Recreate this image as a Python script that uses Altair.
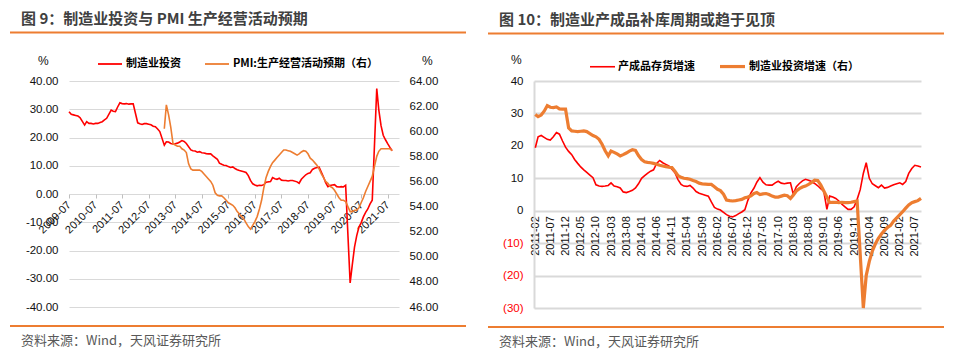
import altair as alt
import pandas as pd

# ---------------- Figure 9 data ----------------
fig9_title = "图 9：制造业投资与 PMI 生产经营活动预期"
fig9_series = ["制造业投资", "PMI:生产经营活动预期（右）"]
fig9_fai_start = (2009, 7)
fig9_fai = [
    29.1, 28.2, 28.0, 27.8, 27.6, 27.0, None,
    24.4, 25.6, 25.0, 25.0, 24.8, 25.0, 25.0, 25.3, 25.6, 26.2, 26.8, None,
    29.7, 29.3, 29.2, 30.8, 32.3, 32.0, 31.9, 32.0, 31.8, 31.9, 31.9, None,
    25.2, 24.9, 24.6, 24.9, 24.9, 24.7, 24.5, 24.0, 23.8, 23.0, 22.1, None,
    17.3, 18.5, 18.4, 17.9, 17.7, 17.8, 18.0, 18.4, 18.9, 18.6, 17.9, None,
    15.6, 15.3, 15.2, 14.8, 15.0, 14.6, 14.5, 14.3, 14.2, 14.2, 13.5, None,
    12.3, 10.9, 10.5, 10.2, 10.1, 9.7, 9.4, 9.6, 9.0, 8.6, 8.3, None,
    7.9, 7.6, 6.5, 4.8, 3.6, 3.2, 2.9, 3.1, 3.0, 3.3, 4.2, None,
    4.4, 5.8, 5.4, 5.2, 5.6, 4.9, 4.8, 4.8, 4.6, 4.8, 4.8, None,
    4.3, 3.8, 5.2, 6.0, 6.8, 7.3, 7.5, 8.7, 9.1, 9.4, 9.5, None,
    5.9, 4.0, 2.6, 3.0, 3.2, 3.3, 2.6, 2.5, 2.6, 2.5, 3.1, None,
    -31.5, -25.2, -18.8, -14.8, -11.7, -10.2, -8.1, -6.5, -5.3, -3.5, -2.2, None,
    37.3, 29.8, 24.2, 20.8, 19.2, 17.8, 16.5, 15.3,
]
fig9_pmi_start = (2013, 2)
fig9_pmi = [
    60.2, 62.1, 61.3, 60.3, 59.0, 58.9, 58.8, 58.8, 58.6, 58.5, 58.3,
    57.4, 57.0, 56.9, 56.9, 56.9, 56.9, 56.8, 56.6, 56.4, 56.2, 56.0, 55.7,
    55.1, 54.9, 54.85, 54.85, 54.7, 54.5, 54.3, 54.2, 54.1, 53.9, 53.6, 53.4,
    53.2, 53.0, 52.7, 52.4, 52.2, 52.5, 52.8, 53.2, 53.8, 54.5, 55.5, 56.3,
    56.8, 57.2, 57.5, 57.7, 57.9, 58.1, 58.3, 58.5, 58.5, 58.45, 58.4, 58.3,
    58.2, 58.1, 58.2, 58.35, 58.45, 58.4, 58.2, 57.85, 57.7, 57.5, 57.3, 57.0,
    56.6, 56.3, 56.0, 55.85, 55.6, 55.5, 55.3, 55.0, 54.7, 54.5, 54.5, 54.4,
    54.0, 53.6, 53.6, 53.7, 53.7, 53.9, 54.3, 54.7, 55.2, 55.6, 56.0, 56.4,
    57.2, 58.0, 58.4, 58.6, 58.6, 58.6, 58.6, 58.6, 58.45,
]
fig9_xticks = ["2009-07", "2010-07", "2011-07", "2012-07", "2013-07", "2014-07",
               "2015-07", "2016-07", "2017-07", "2018-07", "2019-07", "2020-07", "2021-07"]
fig9_left_ticks = [-40, -30, -20, -10, 0, 10, 20, 30, 40]
fig9_right_ticks = [46, 48, 50, 52, 54, 56, 58, 60, 62, 64]

# ---------------- Figure 10 data ----------------
fig10_title = "图 10：制造业产成品补库周期或趋于见顶"
fig10_series = ["产成品存货增速", "制造业投资增速（右）"]
fig10_start = (2011, 2)
fig10_inventory = [
    19.4, 22.8, 23.2, 22.6, 22.0, 21.8, 22.8, 24.1, 23.6, 21.5, 19.6,
    18.3, 17.3, 15.8, 14.6, 13.5, 12.6, 11.8, 11.0, 10.2, 8.0, 7.6, 7.5,
    7.6, 7.8, 8.6, 7.6, 7.4, 7.0, 5.8, 5.6, 5.9, 6.3, 7.0, 8.3,
    10.0, 10.8, 11.5, 12.2, 12.6, 14.6, 15.5, 14.8, 14.3, 13.8, 12.8, 11.7,
    9.6, 8.1, 7.6, 7.5, 7.8, 7.0, 5.9, 5.4, 5.1, 4.8, 4.5, 2.7,
    1.0, 0.5, 0.2, -0.5, -1.2, -1.7, -1.9, -1.5, -0.9, -0.4, 0.3, 3.2,
    5.5, 7.0, 8.8, 10.2, 8.8, 8.0, 7.9, 7.9, 8.6, 9.1, 8.5, 8.3,
    8.5, 8.6, 5.1, 7.4, 8.4, 9.2, 9.7, 9.4, 9.0, 8.4, 7.7, 6.8,
    6.0, 0.4, 4.5, 4.2, 3.8, 3.0, 2.0, 1.2, 0.4, 0.4, 1.2, 3.5,
    6.5, 11.5, 14.8, 10.0, 8.3, 7.7, 7.1, 7.9, 7.0, 7.2, 7.6, 8.0,
    8.3, 8.6, 8.1, 9.0, 11.5, 13.0, 14.0, 13.8, 13.5,
]
fig10_fai = [
    29.7, 29.0, 29.5, 30.7, 32.4, 31.9, 31.8, 32.0, 31.4, 31.3, 31.3,
    25.5, 24.6, 24.5, 24.4, 24.5, 24.6, 24.4, 23.8, 23.2, 22.8, 22.0, 20.5,
    18.5, 16.9, 18.4, 18.0, 17.5, 16.9, 17.3, 17.8, 18.4, 18.8, 18.6, 17.0,
    15.8, 15.1, 14.9, 14.8, 14.6, 14.3, 14.0, 13.8, 13.6, 13.4, 13.3, 12.2,
    10.8, 10.3, 10.0, 9.9, 9.7, 9.3, 9.0, 8.5, 8.3, 8.2, 8.1, 8.1,
    7.4, 6.6, 6.2, 5.1, 3.3, 3.1, 3.0, 3.1, 3.3, 3.5, 4.0, 4.2,
    4.6, 5.3, 5.6, 5.0, 5.2, 5.3, 5.0, 4.5, 4.2, 4.2, 4.5, 4.8,
    4.6, 3.8, 4.8, 6.1, 6.8, 7.3, 7.6, 8.1, 8.7, 9.4, 9.3, 8.0,
    6.1, 4.2, 2.5, 2.6, 2.6, 2.5, 2.6, 2.5, 2.5, 2.6, 2.8, 3.0,
    None, -30.0, -20.0, -15.6, -12.5, -10.2, -8.5, -7.2, -6.0, -5.2, -4.5, -3.2,
    -2.2, -1.2, -0.3, 0.8, 1.8, 2.5, 2.8, 3.1, 3.8,
]
fig10_xticks = ["2011-02", "2011-07", "2011-12", "2012-05", "2012-10", "2013-03", "2013-08",
                "2014-01", "2014-06", "2014-11", "2015-04", "2015-09", "2016-02", "2016-07",
                "2016-12", "2017-05", "2017-10", "2018-03", "2018-08", "2019-01", "2019-06",
                "2019-11", "2020-04", "2020-09", "2021-02", "2021-07"]
fig10_ticks = [-30, -20, -10, 0, 10, 20, 30, 40]

source_text = "资料来源：Wind，天风证券研究所"

# ---------------- helpers ----------------
RED = "#FF0000"
ORANGE = "#ED7D31"
CJK = "Noto Sans CJK SC"
LAT = "Liberation Sans"


def monthly(start, values, series):
    y0, m0 = start
    rows = []
    for i, v in enumerate(values):
        if v is None:
            continue
        k = m0 - 1 + i
        rows.append({"date": f"{y0 + k // 12}/{k % 12 + 1:02d}/01", "value": v, "series": series})
    return pd.DataFrame(rows)


def dt(s, day=1):
    return alt.DateTime(year=int(s[:4]), month=int(s[5:7]), date=day)


def one():
    return alt.Data(values=[{}])


def text(txt, x, y, size, color, weight="normal", font=CJK, align="left"):
    return alt.Chart(one()).mark_text(
        align=align, baseline="middle", fontSize=size, font=font, fontWeight=weight, color=color
    ).encode(x=alt.value(x), y=alt.value(y), text=alt.value(txt))


def hrule(x1, x2, y, color=ORANGE, width=2, opacity=1.0):
    return alt.Chart(one()).mark_rule(color=color, strokeWidth=width, opacity=opacity).encode(
        x=alt.value(x1), x2=alt.value(x2), y=alt.value(y)
    )


# ---------------- Figure 9 ----------------
W9, H9 = 330, 226
df9a = monthly(fig9_fai_start, fig9_fai, fig9_series[0])
df9b = monthly(fig9_pmi_start, fig9_pmi, fig9_series[1])

x9 = alt.X(
    "date:T",
    scale=alt.Scale(domain=[dt("2009-07"), dt("2021-12", 4)]),
    axis=alt.Axis(
        values=[dt(s) for s in fig9_xticks], format="%Y-%m", labelAngle=-45,
        labelAlign="right", labelBaseline="middle", labelPadding=5, labelFontSize=11,
        labelFont=LAT, labelColor="#111111", tickSize=4, tickColor="#BFBFBF", domain=False,
        grid=False, offset=-H9 / 2, title=None, labelOverlap=False, labelFlush=False,
    ),
)
color9 = alt.Color(
    "series:N",
    scale=alt.Scale(domain=fig9_series, range=[RED, ORANGE]),
    legend=alt.Legend(
        orient="none", legendX=28, legendY=-30, direction="horizontal", title=None,
        symbolType="stroke", symbolSize=576, symbolStrokeWidth=1.8, labelFont=CJK,
        labelFontWeight="bold", labelFontSize=11, labelColor="#000000", labelOffset=3,
        columnPadding=20, labelLimit=400,
    ),
)

fai9 = alt.Chart(df9a).mark_line(strokeWidth=1.6).encode(
    x=x9,
    y=alt.Y(
        "value:Q",
        scale=alt.Scale(domain=[-40, 40], nice=False),
        axis=alt.Axis(
            orient="left", values=fig9_left_ticks,
            labelExpr="(datum.value < 0 ? '-' : '') + format(abs(datum.value), '.2f')",
            grid=True, gridColor="#D9D9D9", gridWidth=1, domain=False, ticks=False,
            labelPadding=11, labelFontSize=11.5, labelFont=LAT, labelColor="#111111", title=None,
        ),
    ),
    color=color9,
)
pmi9 = alt.Chart(df9b).mark_line(strokeWidth=1.6).encode(
    x=x9,
    y=alt.Y(
        "value:Q",
        scale=alt.Scale(domain=[46, 64], nice=False, zero=False),
        axis=alt.Axis(
            orient="right", values=fig9_right_ticks, format=".2f", grid=False, domain=False,
            ticks=False, labelPadding=10, labelFontSize=11.5, labelFont=LAT,
            labelColor="#111111", title=None,
        ),
    ),
    color=color9,
)

left = alt.layer(
    fai9, pmi9,
    hrule(-59, 397, -72.5, color="#FFFFFF", width=1, opacity=0),
    text(fig9_title, -48, -62.5, 15, "#404040", weight="bold"),
    hrule(-59, 397, -48.5),
    text("%", -31, -20, 12, "#111111", font=LAT),
    text("%", 353, -20, 12, "#111111", font=LAT),
    hrule(-59, 397, 245),
    text(source_text, -48, 260, 13, "#595959"),
).resolve_scale(y="independent").properties(width=W9, height=H9)

# ---------------- Figure 10 ----------------
W10, H10 = 387, 227
df10a = monthly(fig10_start, fig10_inventory, fig10_series[0])
df10b = monthly(fig10_start, fig10_fai, fig10_series[1])

x10 = alt.X(
    "date:T",
    scale=alt.Scale(domain=[dt("2011-01", 19), dt("2021-09")]),
    axis=alt.Axis(
        values=[dt(s) for s in fig10_xticks], format="%Y-%m", labelAngle=270,
        labelAlign="right", labelBaseline="middle", labelPadding=5, labelFontSize=11,
        labelFont=LAT, labelColor="#111111", ticks=False, domain=False, grid=False,
        offset=-H10 * 30 / 70, title=None, labelOverlap=False, labelFlush=False,
    ),
)
y10 = alt.Y(
    "value:Q",
    scale=alt.Scale(domain=[-30, 40], nice=False),
    axis=alt.Axis(
        orient="left", values=fig10_ticks,
        labelExpr="datum.value < 0 ? '(' + abs(datum.value) + ')' : '' + datum.value",
        labelColor=alt.condition("datum.value < 0", alt.value(RED), alt.value("#111111")),
        grid=True, gridColor="#D9D9D9", gridWidth=2, domain=True, domainColor="#D9D9D9",
        domainWidth=2, ticks=False, labelPadding=11, labelFontSize=11.5, labelFont=LAT, title=None,
    ),
)
legend10 = alt.Legend(
    orient="none", legendX=55, legendY=-29, direction="horizontal", title=None,
    symbolType="stroke", symbolSize=625, labelFont=CJK, labelFontWeight="bold",
    labelFontSize=11, labelColor="#000000", labelOffset=2, columnPadding=18, labelLimit=400,
)
color10 = alt.Color("series:N", scale=alt.Scale(domain=fig10_series, range=[RED, ORANGE]),
                    legend=legend10)
sw10 = alt.StrokeWidth("series:N", scale=alt.Scale(domain=fig10_series, range=[1.6, 3.2]),
                       legend=legend10)

inv10 = alt.Chart(df10a).mark_line().encode(x=x10, y=y10, color=color10, strokeWidth=sw10)
fai10 = alt.Chart(df10b).mark_line().encode(x=x10, y=y10, color=color10, strokeWidth=sw10)

right = alt.layer(
    inv10, fai10,
    hrule(-46, 410, -71.5, color="#FFFFFF", width=1, opacity=0),
    text(fig10_title, -35, -61, 15, "#404040", weight="bold"),
    hrule(-46, 410, -47.5),
    text("%", -23, -21, 12, "#111111", font=LAT),
    hrule(-46, 410, 246),
    text(source_text, -35, 261, 13, "#595959"),
).properties(width=W10, height=H10)

chart = alt.hconcat(left, right, spacing=20).resolve_scale(
    color="independent", strokeWidth="independent"
).configure(
    padding={"left": 1, "top": 0, "right": 0, "bottom": 0}, background="white"
).configure_view(stroke=None)

chart.save("out.html", embed_options={"renderer": "svg", "actions": False})
